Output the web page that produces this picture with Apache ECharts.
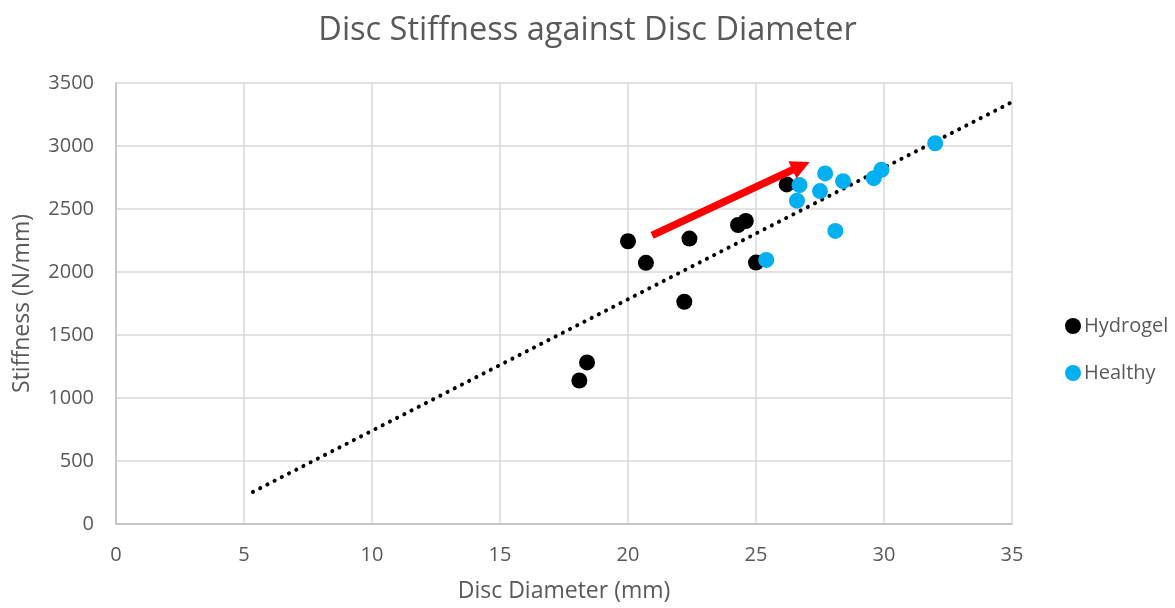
<!DOCTYPE html>
<html>
<head>
<meta charset="utf-8">
<script src="https://cdn.jsdelivr.net/npm/echarts@6/dist/echarts.min.js"></script>
<style>
  html, body { margin: 0; padding: 0; background: #fff; overflow: hidden; }
  #chart { width: 1175px; height: 608px; }
</style>
</head>
<body>
<div id="chart"></div>
<script>
// Disc diameter (mm) and stiffness (N/mm) for each group
const hydrogelDiameter = [20.0, 20.7, 22.4, 22.2, 18.4, 18.1, 24.3, 24.6, 25.0, 26.2];
const hydrogelStiffness = [2244, 2073, 2265, 1764, 1282, 1139, 2373, 2405, 2075, 2695];

const healthyDiameter = [25.4, 26.7, 26.6, 27.7, 27.5, 28.4, 28.1, 29.6, 29.9, 32.0];
const healthyStiffness = [2096, 2690, 2566, 2782, 2642, 2721, 2326, 2745, 2811, 3022];

// Linear trendline end points [diameter, stiffness]
const trendStart = [5.35, 255];
const trendEnd = [35, 3349];

// Red arrow: tail and centre of the arrowhead [diameter, stiffness]
const arrowTail = [20.94, 2291];
const arrowHead = [26.76, 2842];

const xTicks = { min: 0, max: 35, step: 5 };
const yTicks = { min: 0, max: 3500, step: 500 };

const pair = (xs, ys) => xs.map((x, i) => [x, ys[i]]);

const textColor = '#595959';
const fontFamily = '"Open Sans", "Noto Sans", sans-serif';

const chart = echarts.init(document.getElementById('chart'), null, { width: 1175, height: 608 });
chart.setOption({
  backgroundColor: '#ffffff',
  animation: false,
  title: {
    text: 'Disc Stiffness against Disc Diameter',
    left: 'center',
    top: 9,
    textStyle: { color: textColor, fontSize: 32.5, fontWeight: 'normal', fontFamily: fontFamily }
  },
  legend: {
    orient: 'vertical',
    left: 1060,
    top: 311,
    itemGap: 27,
    itemWidth: 16,
    itemHeight: 16,
    textStyle: { color: textColor, fontSize: 20, fontFamily: fontFamily, padding: [0, 0, 0, -2] },
    data: [
      { name: 'Hydrogel', icon: 'circle' },
      { name: 'Healthy', icon: 'circle' }
    ]
  },
  grid: { left: 116, top: 83, width: 896, height: 442, containLabel: false },
  xAxis: {
    type: 'value',
    min: xTicks.min, max: xTicks.max, interval: xTicks.step,
    name: 'Disc Diameter (mm)',
    nameLocation: 'middle',
    nameGap: 56,
    nameTextStyle: { color: textColor, fontSize: 23, fontFamily: fontFamily },
    axisLine: { show: true, lineStyle: { color: '#bfbfbf', width: 1.5 } },
    axisTick: { show: false },
    axisLabel: { color: textColor, fontSize: 20, margin: 21, fontFamily: fontFamily },
    splitLine: { show: true, lineStyle: { color: '#d9d9d9', width: 1.5 } }
  },
  yAxis: {
    type: 'value',
    min: yTicks.min, max: yTicks.max, interval: yTicks.step,
    name: 'Stiffness (N/mm)',
    nameLocation: 'middle',
    nameGap: 82,
    nameTextStyle: { color: textColor, fontSize: 23, fontFamily: fontFamily },
    axisLine: { show: true, lineStyle: { color: '#bfbfbf', width: 1.5 } },
    axisTick: { show: false },
    axisLabel: { color: textColor, fontSize: 20, margin: 22, fontFamily: fontFamily, formatter: v => String(v) },
    splitLine: { show: true, lineStyle: { color: '#d9d9d9', width: 1.5 } }
  },
  series: [
    {
      name: 'Trendline',
      type: 'line',
      data: [trendStart, trendEnd],
      symbol: 'none',
      silent: true,
      z: 1,
      lineStyle: { color: '#000000', width: 4, type: [0.1, 8], cap: 'round' }
    },
    {
      name: 'Hydrogel',
      type: 'scatter',
      data: pair(hydrogelDiameter, hydrogelStiffness),
      symbol: 'circle',
      symbolSize: 16,
      itemStyle: { color: '#000000', opacity: 1 },
      z: 3
    },
    {
      name: 'Healthy',
      type: 'scatter',
      data: pair(healthyDiameter, healthyStiffness),
      symbol: 'circle',
      symbolSize: 16,
      itemStyle: { color: '#00b0f0', opacity: 1 },
      z: 3
    },
    {
      name: 'Arrow',
      type: 'lines',
      coordinateSystem: 'cartesian2d',
      silent: true,
      z: 4,
      symbol: ['none', 'triangle'],
      symbolSize: [22, 19],
      lineStyle: { color: '#ff0000', width: 7.5, opacity: 1, curveness: 0 },
      data: [{ coords: [arrowTail, arrowHead] }]
    }
  ]
});
</script>
</body>
</html>
